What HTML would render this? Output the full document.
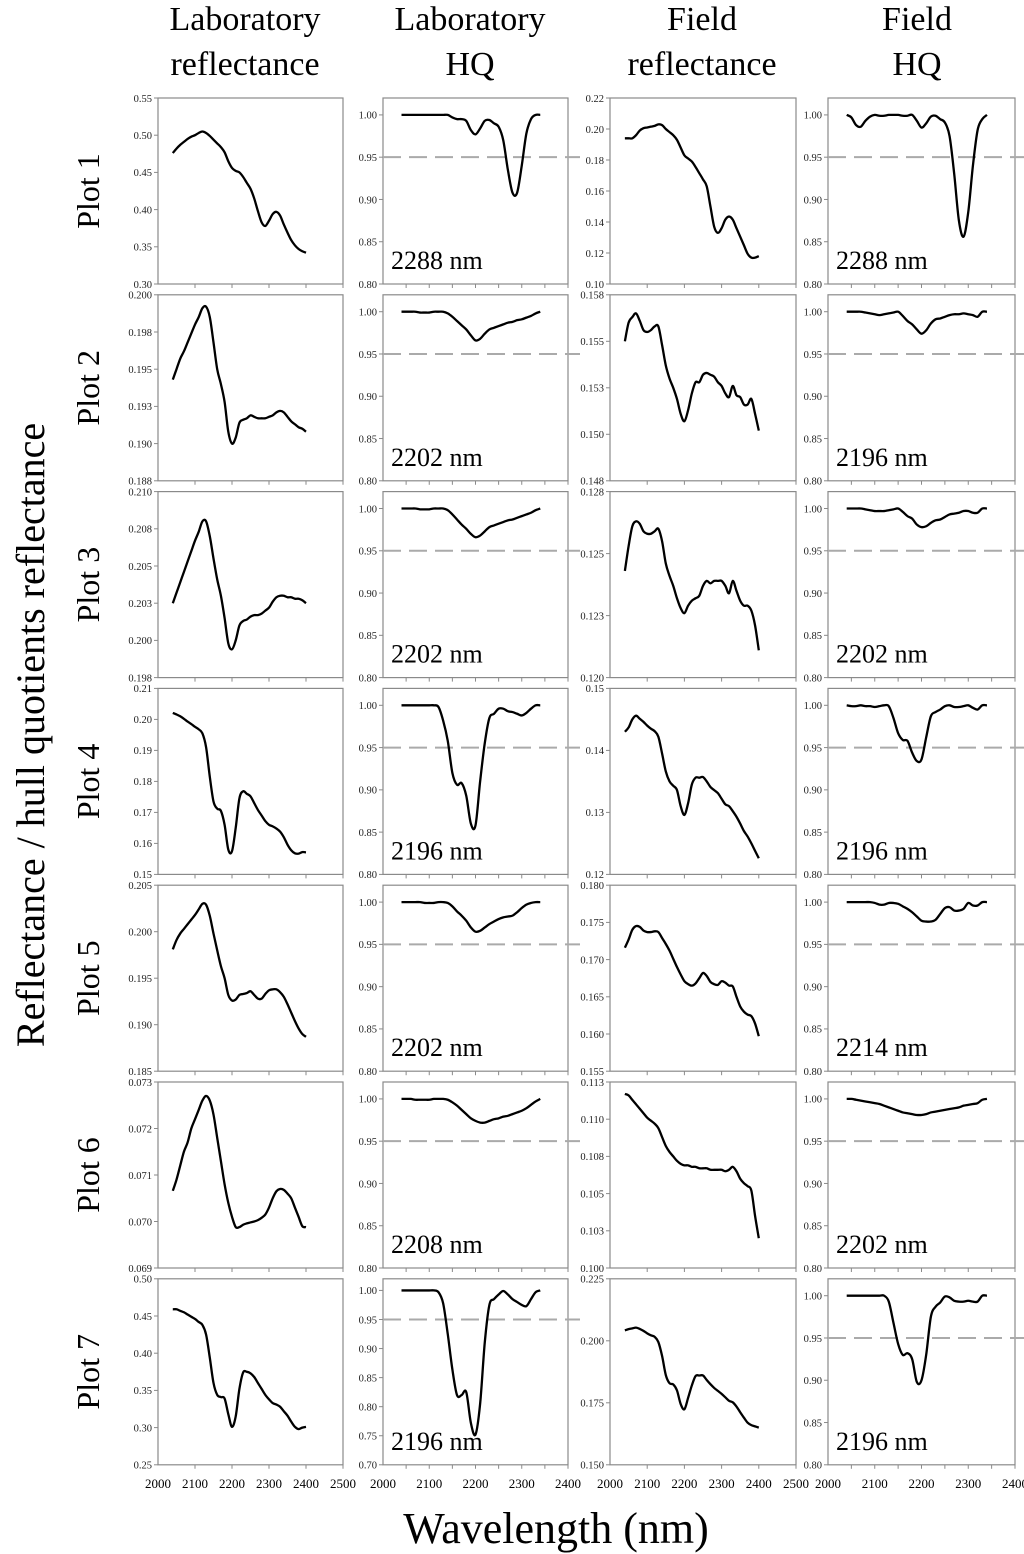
<!DOCTYPE html>
<html><head><meta charset="utf-8"><style>
html,body{margin:0;padding:0;background:#fff;}
svg{display:block;font-family:"Liberation Serif",serif;}
</style></head><body>
<svg id="chart" width="1024" height="1554" viewBox="0 0 1024 1554" xmlns="http://www.w3.org/2000/svg">
<g font-size="34" text-anchor="middle" fill="#000">
<text x="245" y="30">Laboratory</text>
<text x="245" y="75">reflectance</text>
<text x="470" y="30">Laboratory</text>
<text x="470" y="75">HQ</text>
<text x="702" y="30">Field</text>
<text x="702" y="75">reflectance</text>
<text x="917" y="30">Field</text>
<text x="917" y="75">HQ</text>
</g>
<text x="0" y="0" font-size="40" text-anchor="middle" transform="translate(44,735) rotate(-90)">Reflectance / hull quotients reflectance</text>
<text x="556" y="1543" font-size="44" text-anchor="middle">Wavelength (nm)</text>
<g id="panels"></g>
</svg>
<script>
const WL_R=[2040,2050,2060,2070,2080,2090,2100,2110,2120,2130,2140,2150,2160,2170,2180,2190,2200,2210,2220,2230,2240,2250,2260,2270,2280,2290,2300,2310,2320,2330,2340,2350,2360,2370,2380,2390,2400];
const WL_H=[2040,2050,2060,2070,2080,2090,2100,2110,2120,2130,2140,2150,2160,2170,2180,2190,2200,2210,2220,2230,2240,2250,2260,2270,2280,2290,2300,2310,2320,2330,2340];

const labR1=[.476,.482,.487,.491,.495,.498,.500,.503,.505,.503,.499,.494,.489,.484,.477,.465,.456,.452,.450,.444,.436,.428,.415,.398,.383,.378,.385,.394,.397,.392,.380,.369,.359,.352,.347,.344,.342];
const labH1=[1,1,1,1,1,1,1,1,1,1,1,.997,.995,.995,.993,.982,.977,.984,.993,.994,.990,.986,.970,.935,.908,.908,.940,.978,.995,1,1];
const fldR1=[.194,.194,.194,.196,.199,.2005,.201,.2015,.202,.203,.2025,.200,.198,.196,.193,.188,.183,.181,.179,.1755,.1715,.1675,.163,.150,.137,.133,.136,.1415,.1435,.1415,.136,.1305,.125,.1195,.117,.117,.118];
const fldH1=[1,.997,.988,.986,.993,.998,1,.999,.999,1,1,1,.999,.999,1,.993,.985,.990,.998,.999,.995,.991,.975,.930,.875,.856,.885,.940,.982,.995,1];

const labR2=[.1943,.1950,.1957,.1962,.1968,.1974,.1980,.1985,.1991,.1992,.1985,.1968,.1950,.1940,.1928,.1908,.1900,.1904,.1914,.1916,.1917,.1919,.1918,.1917,.1917,.1917,.1918,.1919,.1921,.1922,.1921,.1918,.1915,.1913,.1911,.1910,.1908];
const labH2=[1,1,1,1,.999,.999,.999,1,1,1,.998,.994,.989,.984,.979,.972,.966,.968,.974,.979,.981,.983,.985,.987,.988,.990,.991,.993,.995,.998,1];
const fldR2=[.1550,.1560,.1563,.1565,.1561,.1556,.1555,.1556,.1558,.1558,.1548,.1537,.1530,.1525,.1519,.1511,.1507,.1513,.1522,.1528,.1528,.1532,.1533,.1532,.1531,.1528,.1526,.1522,.1520,.1526,.1521,.1520,.1516,.1516,.1519,.1511,.1502];
const fldH2=[1,1,1,1,.999,.998,.997,.996,.997,.998,.999,1,.995,.989,.985,.979,.974,.978,.986,.991,.992,.994,.996,.997,.997,.998,.997,.996,.994,1,1];

const labR3=[.2025,.2032,.2039,.2046,.2053,.2060,.2067,.2073,.2080,.2080,.2070,.2055,.2041,.2030,.2015,.1998,.1994,.2000,.2010,.2013,.2014,.2016,.2017,.2017,.2018,.2020,.2022,.2026,.2029,.2030,.2030,.2029,.2029,.2028,.2028,.2027,.2025];
const labH3=[1,1,1,1,.999,.999,.999,1,1,1,.998,.993,.987,.981,.976,.970,.966,.968,.973,.978,.980,.982,.984,.986,.987,.989,.991,.993,.995,.998,1];
const fldR3=[.1243,.1253,.1261,.1263,.1262,.1259,.1258,.1258,.1259,.1260,.1255,.1246,.1241,.1237,.1232,.1228,.1226,.1229,.1231,.1232,.1233,.1237,.1239,.1238,.1239,.1239,.1239,.1237,.1234,.1239,.1235,.1231,.1229,.1229,.1227,.1221,.1211];
const fldH3=[1,1,1,1,.999,.998,.997,.997,.997,.998,.999,1,.996,.991,.988,.981,.978,.979,.983,.986,.987,.990,.993,.994,.995,.997,.997,.995,.995,1,1];

const labR4=[.2021,.2016,.2010,.2002,.1993,.1985,.1976,.1968,.1955,.1910,.1815,.1735,.1712,.1705,.1660,.1580,.1575,.1650,.1745,.1768,.1760,.1752,.1730,.1708,.1690,.1672,.1660,.1655,.1648,.1638,.1620,.1596,.1578,.1568,.1567,.1572,.1571];
const labH4=[1,1,1,1,1,1,1,1,.998,.982,.958,.920,.906,.908,.893,.860,.858,.910,.955,.985,.990,.996,.996,.993,.992,.990,.988,.991,.996,1,1];
const fldR4=[.1430,.1437,.1450,.1456,.1451,.1446,.1440,.1435,.1431,.1422,.1395,.1366,.1350,.1343,.1336,.1310,.1296,.1315,.1345,.1356,.1356,.1357,.1350,.1341,.1336,.1331,.1322,.1313,.1310,.1302,.1293,.1282,.1270,.1261,.1250,.1238,.1226];
const fldH4=[1,.999,.999,1,.999,.999,.998,.999,1,.999,.985,.967,.959,.958,.944,.934,.936,.962,.987,.992,.995,.999,1,.998,.998,.999,1,.997,.995,1,1];

const labR5=[.1981,.1991,.1998,.2003,.2008,.2013,.2018,.2024,.2030,.2029,.2017,.1998,.1980,.1963,.1950,.1932,.1926,.1927,.1932,.1933,.1934,.1936,.1932,.1928,.1928,.1933,.1937,.1938,.1938,.1935,.1930,.1922,.1913,.1904,.1896,.1890,.1887];
const labH5=[1,1,1,1,1,.999,.999,.999,1,1,.999,.995,.989,.984,.978,.970,.965,.966,.970,.974,.977,.980,.982,.983,.984,.988,.993,.997,.999,1,1];
const fldR5=[.1716,.1727,.1740,.1745,.1744,.1739,.1737,.1737,.1738,.1737,.1729,.1721,.1712,.1701,.1690,.1680,.1671,.1667,.1665,.1668,.1675,.1682,.1678,.1670,.1667,.1666,.1671,.1669,.1665,.1664,.1650,.1637,.1630,.1626,.1624,.1614,.1597];
const fldH5=[1,1,1,1,1,1,.999,.997,.997,.999,.999,.998,.995,.992,.988,.983,.978,.977,.977,.979,.986,.993,.994,.990,.990,.992,.999,.996,.996,1,1];

const labR6=[.07066,.0709,.0712,.0715,.0717,.0720,.0722,.0724,.0726,.0727,.0726,.0723,.0718,.0713,.0708,.0704,.0701,.06988,.06988,.06993,.06996,.06998,.0700,.07003,.07008,.07015,.0703,.0705,.07065,.0707,.07068,.0706,.0705,.0703,.0701,.0699,.06988];
const labH6=[1,1,1,.999,.999,.999,.999,1,1,1,.999,.996,.992,.987,.982,.977,.974,.972,.972,.974,.976,.977,.979,.980,.982,.984,.986,.989,.993,.997,1];
const fldR6=[.1117,.1116,.1113,.1110,.1107,.1104,.1101,.1099,.1097,.1094,.1088,.1082,.1078,.1075,.1072,.1070,.1069,.1069,.1068,.1068,.1067,.1067,.1067,.1066,.1066,.1066,.1066,.1065,.1066,.1068,.1065,.1060,.1057,.1055,.1052,.1035,.1020];
const fldH6=[1,1,.999,.998,.997,.996,.995,.994,.992,.990,.988,.986,.984,.983,.982,.981,.981,.982,.984,.985,.986,.987,.988,.989,.990,.992,.993,.994,.995,.999,1];

const labR7=[.459,.459,.457,.455,.452,.449,.446,.442,.438,.425,.394,.360,.344,.341,.339,.318,.301,.315,.352,.374,.375,.373,.368,.360,.352,.344,.338,.333,.331,.328,.322,.316,.308,.301,.298,.300,.301];
const labH7=[1,1,1,1,1,1,1,1,.997,.978,.925,.864,.820,.820,.825,.772,.752,.805,.910,.975,.985,.993,.999,.993,.985,.980,.975,.973,.985,.997,1];
const fldR7=[.2042,.2047,.2050,.2053,.2048,.2040,.2030,.2022,.2016,.1995,.1939,.1862,.1829,.1824,.1800,.1745,.1724,.1770,.1820,.1858,.1860,.1860,.1842,.1825,.1810,.1798,.1786,.1772,.1758,.1752,.1735,.1712,.1690,.1670,.1660,.1655,.1650];
const fldH7=[1,1,1,1,1,1,1,1,1,.993,.968,.943,.930,.932,.925,.898,.900,.930,.975,.987,.992,.999,.998,.994,.993,.993,.994,.993,.993,1,1];

const hqMinima=["2288 nm","2202 nm","2202 nm","2196 nm","2202 nm","2208 nm","2196 nm"];
const fieldMinima=["2288 nm","2196 nm","2202 nm","2196 nm","2214 nm","2202 nm","2196 nm"];
const plotNames=["Plot 1","Plot 2","Plot 3","Plot 4","Plot 5","Plot 6","Plot 7"];

const hqTicks=[.80,.85,.90,.95,1.00];
const hqTickLabels=["0.80","0.85","0.90","0.95","1.00"];
const hq7Ticks=[.70,.75,.80,.85,.90,.95,1.00];
const hq7TickLabels=["0.70","0.75","0.80","0.85","0.90","0.95","1.00"];
const labTicks=[
 [.30,.35,.40,.45,.50,.55],
 [.1875,.19,.1925,.195,.1975,.20],
 [.1975,.20,.2025,.205,.2075,.21],
 [.15,.16,.17,.18,.19,.20,.21],
 [.185,.19,.195,.20,.205],
 [.069,.070,.071,.072,.073],
 [.25,.30,.35,.40,.45,.50]];
const labTickLabels=[
 ["0.30","0.35","0.40","0.45","0.50","0.55"],
 ["0.188","0.190","0.193","0.195","0.198","0.200"],
 ["0.198","0.200","0.203","0.205","0.208","0.210"],
 ["0.15","0.16","0.17","0.18","0.19","0.20","0.21"],
 ["0.185","0.190","0.195","0.200","0.205"],
 ["0.069","0.070","0.071","0.072","0.073"],
 ["0.25","0.30","0.35","0.40","0.45","0.50"]];
const fldTicks=[
 [.10,.12,.14,.16,.18,.20,.22],
 [.1475,.15,.1525,.155,.1575],
 [.12,.1225,.125,.1275],
 [.12,.13,.14,.15],
 [.155,.16,.165,.17,.175,.18],
 [.10,.1025,.105,.1075,.11,.1125],
 [.15,.175,.20,.225]];
const fldTickLabels=[
 ["0.10","0.12","0.14","0.16","0.18","0.20","0.22"],
 ["0.148","0.150","0.153","0.155","0.158"],
 ["0.120","0.123","0.125","0.128"],
 ["0.12","0.13","0.14","0.15"],
 ["0.155","0.160","0.165","0.170","0.175","0.180"],
 ["0.100","0.103","0.105","0.108","0.110","0.113"],
 ["0.150","0.175","0.200","0.225"]];
const xTicksR=[2000,2100,2200,2300,2400,2500];
const xTicksH=[2000,2100,2200,2300,2400];
const threshold=0.95;

const labR=[labR1,labR2,labR3,labR4,labR5,labR6,labR7];
const labH=[labH1,labH2,labH3,labH4,labH5,labH6,labH7];
const fldR=[fldR1,fldR2,fldR3,fldR4,fldR5,fldR6,fldR7];
const fldH=[fldH1,fldH2,fldH3,fldH4,fldH5,fldH6,fldH7];

const NS="http://www.w3.org/2000/svg";
const root=document.getElementById("panels");
const colLeft=[158,383,610,828], colW=[185,185,186,187];
const rowTop0=98, rowPitch=196.8, boxH=186;

function mk(tag,attrs,parent){const e=document.createElementNS(NS,tag);for(const k in attrs)e.setAttribute(k,attrs[k]);parent.appendChild(e);return e;}
function smoothPath(pts){
 let d="M"+pts[0][0].toFixed(2)+","+pts[0][1].toFixed(2);
 for(let i=0;i<pts.length-1;i++){
  const p0=pts[Math.max(i-1,0)],p1=pts[i],p2=pts[i+1],p3=pts[Math.min(i+2,pts.length-1)];
  const c1x=p1[0]+(p2[0]-p0[0])/6,c1y=p1[1]+(p2[1]-p0[1])/6;
  const c2x=p2[0]-(p3[0]-p1[0])/6,c2y=p2[1]-(p3[1]-p1[1])/6;
  d+=" C"+c1x.toFixed(2)+","+c1y.toFixed(2)+" "+c2x.toFixed(2)+","+c2y.toFixed(2)+" "+p2[0].toFixed(2)+","+p2[1].toFixed(2);
 }
 return d;
}

function panel(r,c,wl,vals,yMin,yMax,ticks,tickLabels,xMax,minorStep,label){
 const L=colLeft[c],W=colW[c],T=rowTop0+r*rowPitch,B=T+boxH;
 const g=mk("g",{},root);
 
 
 const xs=v=>L+(v-2000)/(xMax-2000)*W;
 const ys=v=>B-(v-yMin)/(yMax-yMin)*boxH;
 const box=mk("rect",{x:L,y:T,width:W,height:boxH,fill:"none",stroke:"#8a8a8a","stroke-width":1.2},g);
 
 
 ticks.forEach((t,i)=>{
  const y=ys(t);
  const tk=mk("line",{x1:L-4,x2:L,y1:y,y2:y,stroke:"#8a8a8a","stroke-width":1},g);
  
  
  const tl=mk("text",{x:L-6,y:y+3.8,"font-size":10.5,"text-anchor":"end",fill:"#222"},g);
  
  
  tl.textContent=tickLabels[i];
 });
 for(let v=2000+minorStep;v<=xMax;v+=minorStep){
  const x=xs(v);
  const tk=mk("line",{x1:x,x2:x,y1:B,y2:B+4,stroke:"#8a8a8a","stroke-width":1},g);
  
  
 }
 if(label){
  const y=ys(threshold);
  const dl=mk("line",{x1:L,x2:L+W+12,y1:y,y2:y,stroke:"#aaaaaa","stroke-width":2,"stroke-dasharray":"18,8"},g);
  
  
  const lt=mk("text",{x:L+8,y:B-15,"font-size":26,fill:"#000"},g);
  
  
  lt.textContent=label;
 }
 const pts=wl.map((w,i)=>[xs(w),ys(vals[i])]);
 const p=mk("path",{d:smoothPath(pts),fill:"none",stroke:"#000","stroke-width":2.3,"stroke-linejoin":"round"},g);
 
 
 if(r===6){
  const xt=(xMax===2500)?xTicksR:xTicksH;
  xt.forEach(v=>{
   const t=mk("text",{x:xs(v),y:1488,"font-size":13,"text-anchor":"middle",fill:"#000"},g);
   
   
   t.textContent=String(v);
  });
 }
}

for(let r=0;r<7;r++){
 const lt=labTicks[r], ft=fldTicks[r];
 panel(r,0,WL_R,labR[r],lt[0],lt[lt.length-1],lt,labTickLabels[r],2500,100,null);
 if(r===6) panel(r,1,WL_H,labH[r],0.70,1.02,hq7Ticks,hq7TickLabels,2400,50,hqMinima[r]);
 else panel(r,1,WL_H,labH[r],0.80,1.02,hqTicks,hqTickLabels,2400,50,hqMinima[r]);
 panel(r,2,WL_R,fldR[r],ft[0],ft[ft.length-1],ft,fldTickLabels[r],2500,100,null);
 panel(r,3,WL_H,fldH[r],0.80,1.02,hqTicks,hqTickLabels,2400,50,fieldMinima[r]);
 const cy=rowTop0+r*rowPitch+boxH/2;
 const pl=mk("text",{x:0,y:0,"font-size":32,"text-anchor":"middle",transform:"translate(99,"+cy+") rotate(-90)"},root);
 
 
 pl.textContent=plotNames[r];
}
</script>
</body></html>
